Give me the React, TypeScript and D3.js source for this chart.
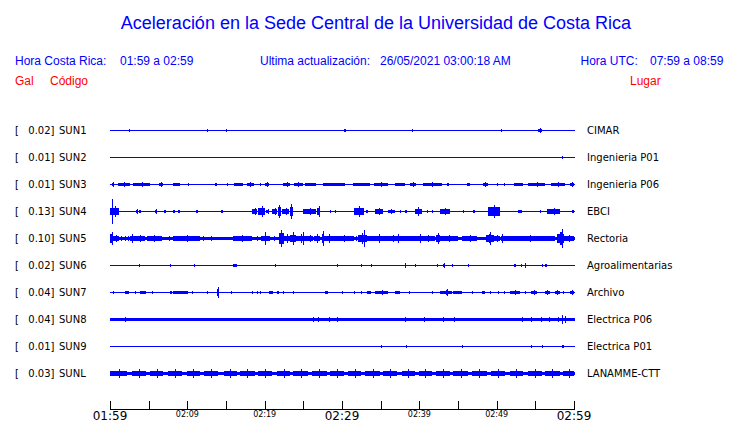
import { useMemo } from 'react';
import * as d3 from 'd3';

// station table
const codes = ['SUN1', 'SUN2', 'SUN3', 'SUN4', 'SUN5', 'SUN6', 'SUN7', 'SUN8', 'SUN9', 'SUNL'];
const galMax = ['0.02', '0.01', '0.01', '0.13', '0.10', '0.02', '0.04', '0.04', '0.01', '0.03'];
const places = ['CIMAR', 'Ingenieria P01', 'Ingenieria P06', 'EBCI', 'Rectoria', 'Agroalimentarias', 'Archivo', 'Electrica P06', 'Electrica P01', 'LANAMME-CTT'];

// background noise level per trace (Gal)
const noise = [0, 0, 0, 0, 0.01, 0, 0, 0.013, 0, 0.012];

// bursts: [start min, end min, peak Gal], minutes after 01:59
const sun1 = [[2.4, 2.4, 0.016], [12.6, 12.6, 0.016], [15.0, 15.0, 0.016], [30.2, 30.2, 0.016], [30.4, 30.4, 0.011], [39.1, 39.1, 0.011], [50.5, 50.5, 0.008], [55.4, 55.8, 0.027]];
const sun2 = [[58.4, 58.4, 0.008]];
const sun3 = [[0.2, 0.5, 0.018], [1.0, 2.6, 0.018], [3.0, 5.2, 0.018], [6.3, 6.9, 0.018], [8.2, 9.1, 0.016], [10.1, 10.2, 0.012], [13.6, 13.7, 0.012], [15.1, 15.2, 0.012], [16.0, 17.2, 0.016], [17.7, 18.6, 0.018], [19.4, 19.5, 0.016], [20.1, 20.5, 0.018], [22.4, 23.3, 0.018], [23.8, 24.9, 0.018], [25.2, 26.7, 0.016], [27.6, 30.4, 0.016], [31.4, 33.6, 0.016], [34.1, 36.0, 0.018], [36.9, 38.2, 0.016], [38.8, 39.6, 0.018], [40.5, 42.9, 0.018], [43.6, 43.8, 0.012], [46.1, 46.5, 0.016], [48.2, 48.9, 0.018], [50.0, 50.1, 0.012], [50.9, 51.0, 0.012], [52.2, 53.4, 0.016], [54.1, 56.3, 0.018], [57.0, 58.9, 0.018], [59.5, 60, 0.018]];
const sun4 = [[0, 1.2, 0.05], [0.2, 0.35, 0.13], [3.3, 3.6, 0.022], [3.8, 3.9, 0.012], [5.8, 6.1, 0.022], [7.0, 7.3, 0.016], [8.2, 8.25, 0.01], [8.8, 9.0, 0.012], [11.1, 11.3, 0.016], [14.4, 14.45, 0.01], [18.4, 19.0, 0.03], [19.2, 20.0, 0.055], [20.2, 20.6, 0.025], [21.0, 21.6, 0.03], [21.7, 22.1, 0.065], [22.3, 23.2, 0.035], [23.3, 23.6, 0.072], [25.0, 26.6, 0.03], [26.8, 27.2, 0.055], [28.4, 28.5, 0.015], [29.1, 29.2, 0.015], [31.6, 32.8, 0.055], [33.1, 33.3, 0.012], [34.3, 35.3, 0.035], [35.9, 36.8, 0.022], [37.5, 37.6, 0.01], [38.2, 38.3, 0.012], [39.4, 40.3, 0.04], [41.0, 41.1, 0.01], [41.6, 41.7, 0.01], [42.7, 44.0, 0.032], [45.6, 45.7, 0.01], [47.0, 47.1, 0.01], [48.9, 50.4, 0.065], [52.8, 53.3, 0.016], [55.6, 55.7, 0.012], [56.5, 58.2, 0.035], [59.8, 60, 0.012]];
const sun5 = [[0, 0.4, 0.065], [0.4, 1.1, 0.03], [1.3, 1.5, 0.018], [1.8, 2.0, 0.018], [2.2, 2.4, 0.018], [2.6, 3.2, 0.045], [3.2, 4.5, 0.03], [4.8, 6.7, 0.03], [7.3, 8.0, 0.024], [8.2, 11.6, 0.03], [11.8, 12.2, 0.018], [12.5, 13.5, 0.018], [14.0, 14.1, 0.012], [14.8, 14.9, 0.012], [15.9, 18.3, 0.03], [18.6, 19.3, 0.018], [19.5, 20.7, 0.045], [20.0, 20.2, 0.065], [20.7, 21.7, 0.024], [21.8, 22.5, 0.085], [22.5, 23.3, 0.045], [23.3, 24.0, 0.06], [24.0, 25.5, 0.045], [24.9, 25.1, 0.065], [25.5, 26.3, 0.035], [26.4, 27.2, 0.045], [27.4, 27.6, 0.075], [27.6, 29.0, 0.045], [29.0, 31.5, 0.03], [31.6, 32.0, 0.024], [32.1, 33.2, 0.055], [32.8, 33.0, 0.085], [33.2, 40.0, 0.032], [34.6, 35.0, 0.045], [37.1, 37.5, 0.038], [39.9, 40.3, 0.045], [40.3, 42.0, 0.03], [42.2, 42.7, 0.055], [42.7, 45.0, 0.03], [45.5, 47.5, 0.028], [48.6, 49.6, 0.06], [49.0, 49.2, 0.065], [49.6, 50.4, 0.03], [50.6, 50.9, 0.045], [51.0, 57.6, 0.03], [57.8, 58.7, 0.065], [58.3, 58.5, 0.1], [58.7, 60, 0.03]];
const sun6 = [[3.7, 3.7, 0.01], [7.8, 7.8, 0.01], [10.8, 10.8, 0.016], [15.9, 16.4, 0.016], [21.4, 21.4, 0.01], [29.4, 29.4, 0.01], [32.5, 32.5, 0.01], [33.8, 33.8, 0.01], [38.1, 38.1, 0.022], [39.4, 39.5, 0.016], [42.3, 42.3, 0.01], [43.1, 43.2, 0.027], [44.2, 44.3, 0.016], [46.3, 46.3, 0.01], [52.3, 52.4, 0.016], [53.1, 53.2, 0.016], [53.6, 53.6, 0.027], [55.8, 55.9, 0.016], [56.3, 56.4, 0.016]];
const sun7 = [[0.4, 0.4, 0.01], [1.9, 2.4, 0.016], [3.2, 3.2, 0.01], [3.9, 4.6, 0.016], [5.4, 5.4, 0.01], [7.8, 8.0, 0.012], [8.2, 10.1, 0.016], [10.6, 10.6, 0.01], [12.5, 12.5, 0.01], [13.9, 14.1, 0.05], [15.7, 15.7, 0.01], [18.3, 18.3, 0.01], [19.0, 19.0, 0.01], [19.4, 19.4, 0.01], [20.5, 21.1, 0.016], [21.6, 21.8, 0.016], [22.4, 22.4, 0.01], [23.7, 23.7, 0.01], [27.8, 28.2, 0.01], [30.0, 30.0, 0.01], [31.5, 31.5, 0.01], [32.5, 32.5, 0.01], [33.2, 33.8, 0.01], [34.3, 36.0, 0.018], [36.9, 37.5, 0.01], [38.6, 38.8, 0.01], [41.6, 41.7, 0.012], [42.7, 44.2, 0.02], [43.5, 43.6, 0.03], [44.4, 45.5, 0.016], [46.8, 46.8, 0.01], [48.1, 48.5, 0.01], [49.2, 49.2, 0.01], [50.2, 50.2, 0.01], [50.9, 50.9, 0.01], [51.7, 53.0, 0.018], [53.7, 53.7, 0.01], [54.5, 55.2, 0.018], [56.2, 56.9, 0.018], [57.5, 58.2, 0.02], [58.6, 58.6, 0.01], [59.5, 60, 0.02]];
const sun8 = [[2.0, 2.0, 0.02], [26.2, 26.2, 0.02], [26.9, 26.9, 0.02], [28.3, 28.3, 0.02], [29.3, 29.3, 0.02], [38.1, 38.1, 0.02], [40.6, 40.6, 0.02], [43.0, 43.0, 0.02], [43.7, 45.3, 0.025], [53.3, 53.3, 0.022], [54.4, 54.4, 0.025], [55.6, 55.9, 0.025], [56.8, 56.8, 0.022], [57.6, 58.2, 0.022], [58.5, 58.5, 0.045], [58.8, 58.8, 0.03]];
const sun9 = [[35.0, 35.0, 0.01], [38.3, 38.3, 0.008], [45.5, 45.5, 0.008], [54.5, 54.5, 0.008], [55.8, 55.8, 0.008], [58.4, 58.7, 0.014]];
const sunl = [[0, 2.2, 0.04], [2.8, 4.7, 0.04], [5.2, 6.9, 0.038], [7.5, 9.3, 0.04], [9.9, 11.6, 0.038], [12.1, 14.0, 0.04], [14.7, 16.4, 0.038], [16.8, 18.7, 0.038], [19.2, 20.9, 0.038], [21.6, 23.3, 0.04], [23.7, 25.6, 0.038], [26.1, 28.0, 0.04], [28.4, 30.2, 0.038], [30.8, 32.5, 0.038], [33.0, 34.9, 0.04], [35.3, 37.1, 0.038], [37.7, 39.4, 0.038], [39.9, 41.6, 0.038], [42.2, 44.0, 0.038], [44.4, 46.3, 0.04], [46.8, 48.7, 0.038], [49.3, 51.1, 0.04], [51.7, 53.4, 0.038], [54.1, 55.8, 0.038], [56.2, 58.2, 0.038], [58.6, 60, 0.04]];
const bursts = [sun1, sun2, sun3, sun4, sun5, sun6, sun7, sun8, sun9, sunl];

// time axis
const tickMinutes = d3.range(0, 61, 5);
const labelMinutes = [0, 10, 20, 30, 40, 50, 60];
const labelText = ['01:59', '02:09', '02:19', '02:29', '02:39', '02:49', '02:59'];
const bigLabels = ['01:59', '02:29', '02:59'];

const BLUE = '#0000ff';
const HEAD = '"Liberation Sans", Arial, sans-serif';
const LBL = '"DejaVu Sans", sans-serif';

export default function App() {
    const width = 740;
    const height = 423;

    const x = useMemo(() => d3.scaleLinear().domain([0, 60]).range([110, 574]), []);
    const y = useMemo(() => d3.scalePoint<string>().domain(codes).range([130, 373]), []);
    const amp = useMemo(() => d3.scaleLinear().domain([0, 0.13]).range([0, 12]), []);

    const axisY = 409;

    return (
        <svg width={width} height={height} style={{ position: 'fixed', left: 0, top: 0, background: '#fff' }}>
            <text x={376} y={29} textAnchor="middle" fill={BLUE} fontFamily={HEAD} fontSize={18}>
                Aceleración en la Sede Central de la Universidad de Costa Rica
            </text>

            <g fill={BLUE} fontFamily={HEAD} fontSize={12}>
                <text x={15} y={65}>Hora Costa Rica:</text>
                <text x={120} y={65}>01:59 a 02:59</text>
                <text x={260} y={65}>Ultima actualización:</text>
                <text x={380} y={65}>26/05/2021 03:00:18 AM</text>
                <text x={580.5} y={65}>Hora UTC:</text>
                <text x={650} y={65}>07:59 a 08:59</text>
            </g>
            <g fill="#ff0000" fontFamily={HEAD} fontSize={12}>
                <text x={15} y={84.5}>Gal</text>
                <text x={50} y={84.5}>Código</text>
                <text x={630} y={84.5}>Lugar</text>
            </g>

            {codes.map((c, i) => {
                const cy = Math.round(y(c)!);
                return (
                    <g key={c}>
                        <g fontFamily={LBL} fontSize={10} fill="#000">
                            <text x={15} y={cy + 4}>[</text>
                            <text x={54.5} y={cy + 4} textAnchor="end">{galMax[i] + ']'}</text>
                            <text x={59} y={cy + 4}>{c}</text>
                            <text x={587} y={cy + 4}>{places[i]}</text>
                        </g>
                        <g fill={BLUE} shapeRendering="crispEdges">
                            <rect x={x(0)} y={cy} width={x(60) - x(0) + 1} height={1} />
                            {noise[i] > 0 && (
                                <rect x={x(0)} y={cy - Math.round(amp(noise[i]))}
                                    width={x(60) - x(0) + 1} height={2 * Math.round(amp(noise[i])) + 1} />
                            )}
                            {bursts[i].map(([s, e, p], j) => {
                                const x0 = Math.round(x(s));
                                const w = Math.max(1, Math.round(x(e)) - x0);
                                const body = Math.round(amp(p) * 0.6);
                                const peak = Math.round(amp(p));
                                const xc = Math.round(x((s + e) / 2));
                                return (
                                    <g key={j}>
                                        <rect x={x0} y={cy - body} width={w} height={2 * body + 1} />
                                        <rect x={xc} y={cy - peak} width={1} height={2 * peak + 1} />
                                    </g>
                                );
                            })}
                        </g>
                    </g>
                );
            })}

            <g stroke="#000" shapeRendering="crispEdges">
                <line x1={x(0)} x2={x(60) + 1} y1={axisY + 0.5} y2={axisY + 0.5} />
                {tickMinutes.map((m) => (
                    <line key={m} x1={Math.round(x(m)) + 0.5} x2={Math.round(x(m)) + 0.5} y1={axisY - 8} y2={axisY} />
                ))}
            </g>
            <g fontFamily={LBL} fill="#000" textAnchor="middle">
                {labelMinutes.map((m, i) => {
                    const big = bigLabels.includes(labelText[i]);
                    return (
                        <text key={m} x={x(m)} y={big ? 420 : 417} fontSize={big ? 12 : 8}>
                            {labelText[i]}
                        </text>
                    );
                })}
            </g>
        </svg>
    );
}
